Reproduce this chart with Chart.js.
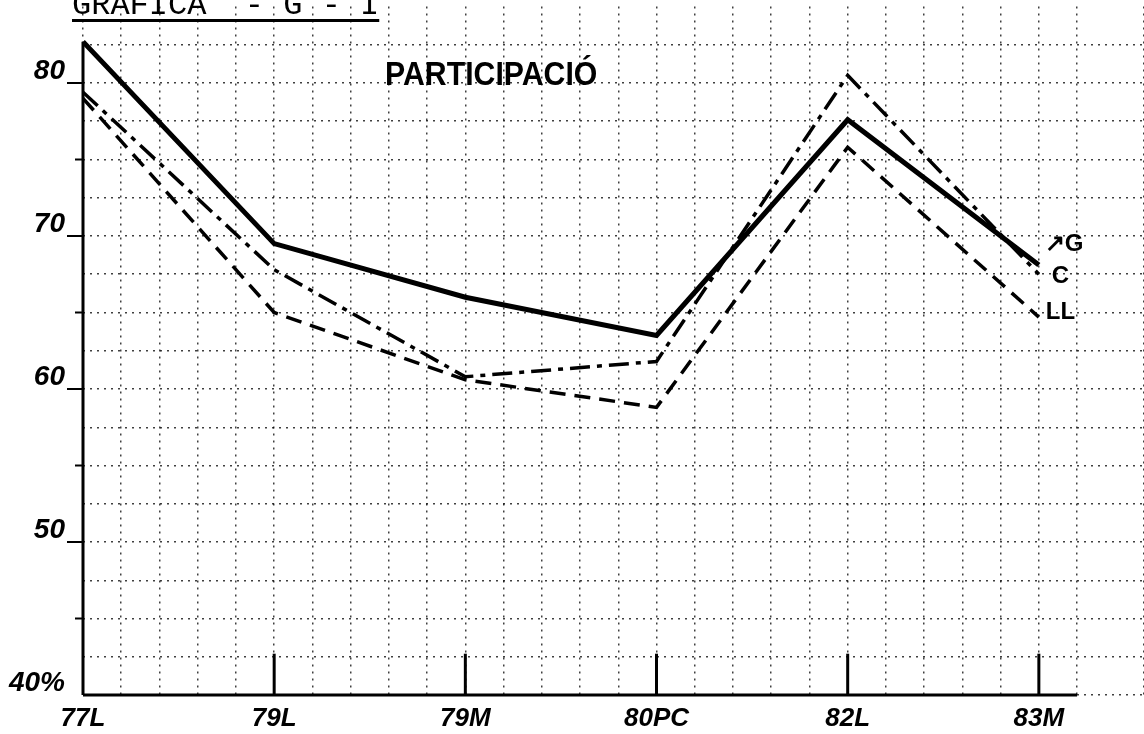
<!DOCTYPE html>
<html>
<head>
<meta charset="utf-8">
<title>Gràfica G-1 Participació</title>
<script src="https://cdn.jsdelivr.net/npm/chart.js@4.4.1/dist/chart.umd.min.js"></script>
<style>
  html, body { margin: 0; padding: 0; background: #fff; }
  #wrap { position: relative; width: 1144px; height: 734px; overflow: hidden; }
  #grafica { position: absolute; left: 72px; top: -10px; font: 32px/32px 'Liberation Mono', monospace; white-space: pre; color: #000;
    text-decoration: underline; text-decoration-thickness: 3px; text-underline-offset: 5px; }
  #partic { position: absolute; left: 385px; top: 56px; font: bold 34px/34px 'Liberation Sans', sans-serif; color: #000;
    transform: scaleX(0.89); transform-origin: left top; white-space: pre; }
</style>
</head>
<body>
<div id="wrap">
  <canvas id="grafic" width="1144" height="734"></canvas>
  <div id="grafica">GRAFICA  - G - I</div>
  <div id="partic">PARTICIPACIÓ</div>
</div>
<script>
// dades llegides de la gràfica
const categories = ['77L', '79L', '79M', '80PC', '82L', '83M'];
const serieG = [82.7, 69.5, 66.0, 63.5, 77.6, 68.1];
const serieC = [79.4, 67.8, 60.8, 61.8, 80.5, 67.5];
const serieLL = [79.0, 65.0, 60.6, 58.8, 75.8, 64.7];
const yTicks = [40, 50, 60, 70, 80];
const yTickLabels = ['40%', '50', '60', '70', '80'];

function punts(valors) {
	return valors.map(function(v, i) { return {x: i, y: v}; });
}

const lletraMa = "'Liberation Sans Narrow', 'Liberation Sans', sans-serif";

// eixos, marques i noms de les series
const eixos = {
	id: 'eixos',
	afterDatasetsDraw(chart) {
		const ctx = chart.ctx, x = chart.scales.x, y = chart.scales.y;
		const x0 = x.getPixelForValue(0), y0 = y.getPixelForValue(40);
		ctx.save();
		ctx.strokeStyle = '#000';
		ctx.lineWidth = 3;
		ctx.beginPath();
		ctx.moveTo(x0, y0);
		ctx.lineTo(x.getPixelForValue(categories.length - 0.8), y0);
		ctx.stroke();
		ctx.beginPath();
		ctx.moveTo(x0, y0);
		ctx.lineTo(x0, y.getPixelForValue(Math.max(serieG[0], serieC[0], serieLL[0])));
		ctx.stroke();
		for (let i = 1; i < categories.length; i++) {
			const px = x.getPixelForValue(i);
			ctx.beginPath();
			ctx.moveTo(px, y0);
			ctx.lineTo(px, y.getPixelForValue(42.7));
			ctx.stroke();
		}
		ctx.lineWidth = 2;
		for (let v = 45; v <= 80; v += 5) {
			const py = y.getPixelForValue(v);
			const llarg = v % 10 === 0 ? 16 : 8;
			ctx.beginPath();
			ctx.moveTo(x0 - llarg, py);
			ctx.lineTo(x0, py);
			ctx.stroke();
		}
		ctx.fillStyle = '#000';
		ctx.font = 'bold 24px ' + lletraMa;
		chart.data.datasets.forEach(function(ds, i) {
			const meta = chart.getDatasetMeta(i);
			const last = meta.data[meta.data.length - 1];
			ctx.fillText(ds.etiqueta, last.x + ds.etiquetaDx, last.y + ds.etiquetaDy);
		});
		ctx.restore();
	}
};

const ctx = document.getElementById('grafic').getContext('2d');
const myChart = new Chart(ctx, {
	type: 'line',
	data: {
		datasets: [{
			label: 'G',
			etiqueta: '↗G', etiquetaDx: 6, etiquetaDy: -14,
			data: punts(serieG),
			borderColor: '#000',
			borderWidth: 5
		}, {
			label: 'C',
			etiqueta: 'C', etiquetaDx: 13, etiquetaDy: 9,
			data: punts(serieC),
			borderColor: '#000',
			borderWidth: 3.5,
			borderDash: [20, 7, 5, 7]
		}, {
			label: 'LL',
			etiqueta: 'LL', etiquetaDx: 7, etiquetaDy: 2,
			data: punts(serieLL),
			borderColor: '#000',
			borderWidth: 3.5,
			borderDash: [16, 9]
		}]
	},
	options: {
		responsive: false,
		animation: false,
		devicePixelRatio: 1,
		layout: { padding: { top: 6.5, left: 0, right: 0, bottom: 0 } },
		elements: {
			point: { radius: 0 },
			line: { tension: 0, fill: false, borderJoinStyle: 'miter' }
		},
		plugins: {
			legend: { display: false },
			tooltip: { enabled: false }
		},
		scales: {
			x: {
				type: 'linear',
				min: 0,
				max: 5.55,
				afterFit(s) { s.height = 39; s.paddingLeft = 0; s.paddingRight = 0; },
				border: { display: false, dash: [2, 5] },
				grid: { color: 'rgba(0,0,0,0.75)', lineWidth: 1.5, drawTicks: false },
				ticks: {
					stepSize: 0.2,
					autoSkip: false,
					maxRotation: 0,
					padding: 8,
					color: '#000',
					font: { family: lletraMa, size: 26, style: 'italic', weight: 'bold' },
					callback: function(v) {
						const r = Math.round(v);
						return Math.abs(v - r) < 1e-6 && r < categories.length ? categories[r] : '';
					}
				}
			},
			y: {
				min: 40,
				max: 85,
				afterFit(s) { s.width = 83; s.paddingTop = 0; s.paddingBottom = 0; },
				border: { display: false, dash: [2, 5] },
				grid: {
					color: function(c) { return c.tick && c.tick.value >= 85 ? 'rgba(0,0,0,0)' : 'rgba(0,0,0,0.75)'; },
					lineWidth: 1.5,
					drawTicks: false
				},
				ticks: {
					stepSize: 2.5,
					autoSkip: false,
					padding: 18,
					labelOffset: -12,
					color: '#000',
					font: { family: lletraMa, size: 28, style: 'italic', weight: 'bold' },
					callback: function(v) {
						const k = yTicks.indexOf(v);
						return k >= 0 ? yTickLabels[k] : '';
					}
				}
			}
		}
	},
	plugins: [eixos]
});
</script>
</body>
</html>
